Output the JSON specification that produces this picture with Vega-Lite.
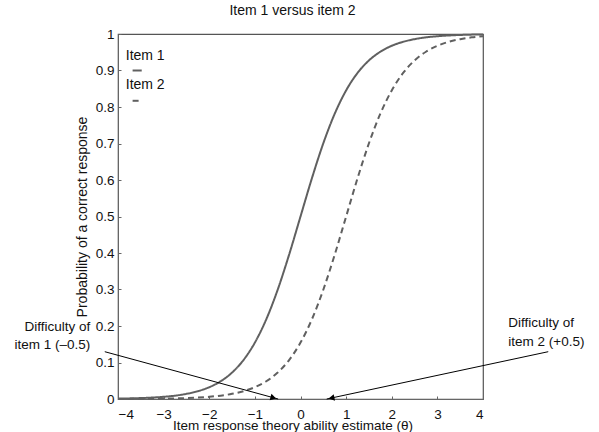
{
  "$schema": "https://vega.github.io/schema/vega-lite/v6.json",
  "width": 365,
  "height": 365,
  "autosize": {"type": "none"},
  "padding": {"left": 118, "top": 34, "right": 116, "bottom": 33},
  "background": "white",
  "title": {"text": "Item 1 versus item 2", "fontSize": 14, "fontWeight": "normal", "font": "Liberation Sans", "color": "#111", "offset": 9, "anchor": "middle", "frame": "group", "dx": -8},
  "config": {
    "view": {"stroke": "#555", "strokeWidth": 1.2},
    "axis": {"labelFont": "Liberation Sans", "titleFont": "Liberation Sans", "labelFontSize": 13.5, "titleFontSize": 14, "titleFontWeight": "normal", "labelColor": "#111", "titleColor": "#111", "domainColor": "#666", "tickColor": "#666", "grid": false, "labelOverlap": false},
    "text": {"font": "Liberation Sans", "fontSize": 13.5, "color": "#111"}
  },
  "datasets": {
    "curves": [
      {"theta": -4, "p": 0.0011, "item": "Item 1"}, {"theta": -3.75, "p": 0.0017, "item": "Item 1"}, {"theta": -3.5, "p": 0.0026, "item": "Item 1"}, {"theta": -3.25, "p": 0.004, "item": "Item 1"},
      {"theta": -3, "p": 0.0061, "item": "Item 1"}, {"theta": -2.75, "p": 0.0092, "item": "Item 1"}, {"theta": -2.5, "p": 0.0141, "item": "Item 1"}, {"theta": -2.25, "p": 0.0214, "item": "Item 1"},
      {"theta": -2, "p": 0.0323, "item": "Item 1"}, {"theta": -1.75, "p": 0.0486, "item": "Item 1"}, {"theta": -1.5, "p": 0.0724, "item": "Item 1"}, {"theta": -1.25, "p": 0.1067, "item": "Item 1"},
      {"theta": -1, "p": 0.1545, "item": "Item 1"}, {"theta": -0.75, "p": 0.2184, "item": "Item 1"}, {"theta": -0.5, "p": 0.2994, "item": "Item 1"}, {"theta": -0.25, "p": 0.3953, "item": "Item 1"},
      {"theta": 0, "p": 0.5, "item": "Item 1"}, {"theta": 0.25, "p": 0.6047, "item": "Item 1"}, {"theta": 0.5, "p": 0.7006, "item": "Item 1"}, {"theta": 0.75, "p": 0.7816, "item": "Item 1"},
      {"theta": 1, "p": 0.8455, "item": "Item 1"}, {"theta": 1.25, "p": 0.8933, "item": "Item 1"}, {"theta": 1.5, "p": 0.9276, "item": "Item 1"}, {"theta": 1.75, "p": 0.9514, "item": "Item 1"},
      {"theta": 2, "p": 0.9677, "item": "Item 1"}, {"theta": 2.25, "p": 0.9786, "item": "Item 1"}, {"theta": 2.5, "p": 0.9859, "item": "Item 1"}, {"theta": 2.75, "p": 0.9908, "item": "Item 1"},
      {"theta": 3, "p": 0.9939, "item": "Item 1"}, {"theta": 3.25, "p": 0.996, "item": "Item 1"}, {"theta": 3.5, "p": 0.9974, "item": "Item 1"}, {"theta": 3.75, "p": 0.9983, "item": "Item 1"},
      {"theta": 4, "p": 0.9989, "item": "Item 1"},
      {"theta": -4, "p": 0.0002, "item": "Item 2"}, {"theta": -3.75, "p": 0.0003, "item": "Item 2"}, {"theta": -3.5, "p": 0.0005, "item": "Item 2"}, {"theta": -3.25, "p": 0.0007, "item": "Item 2"},
      {"theta": -3, "p": 0.0011, "item": "Item 2"}, {"theta": -2.75, "p": 0.0017, "item": "Item 2"}, {"theta": -2.5, "p": 0.0026, "item": "Item 2"}, {"theta": -2.25, "p": 0.004, "item": "Item 2"},
      {"theta": -2, "p": 0.0061, "item": "Item 2"}, {"theta": -1.75, "p": 0.0092, "item": "Item 2"}, {"theta": -1.5, "p": 0.0141, "item": "Item 2"}, {"theta": -1.25, "p": 0.0214, "item": "Item 2"},
      {"theta": -1, "p": 0.0323, "item": "Item 2"}, {"theta": -0.75, "p": 0.0486, "item": "Item 2"}, {"theta": -0.5, "p": 0.0724, "item": "Item 2"}, {"theta": -0.25, "p": 0.1067, "item": "Item 2"},
      {"theta": 0, "p": 0.1545, "item": "Item 2"}, {"theta": 0.25, "p": 0.2184, "item": "Item 2"}, {"theta": 0.5, "p": 0.2994, "item": "Item 2"}, {"theta": 0.75, "p": 0.3953, "item": "Item 2"},
      {"theta": 1, "p": 0.5, "item": "Item 2"}, {"theta": 1.25, "p": 0.6047, "item": "Item 2"}, {"theta": 1.5, "p": 0.7006, "item": "Item 2"}, {"theta": 1.75, "p": 0.7816, "item": "Item 2"},
      {"theta": 2, "p": 0.8455, "item": "Item 2"}, {"theta": 2.25, "p": 0.8933, "item": "Item 2"}, {"theta": 2.5, "p": 0.9276, "item": "Item 2"}, {"theta": 2.75, "p": 0.9514, "item": "Item 2"},
      {"theta": 3, "p": 0.9677, "item": "Item 2"}, {"theta": 3.25, "p": 0.9786, "item": "Item 2"}, {"theta": 3.5, "p": 0.9859, "item": "Item 2"}, {"theta": 3.75, "p": 0.9908, "item": "Item 2"},
      {"theta": 4, "p": 0.9939, "item": "Item 2"}
    ],
    "legendText": [
      {"theta": -3.83, "p": 0.94, "label": "Item 1"},
      {"theta": -3.83, "p": 0.86, "label": "Item 2"}
    ],
    "legendSample": [
      {"theta": -3.68, "theta2": -3.48, "p": 0.9, "item": "Item 1"},
      {"theta": -3.68, "theta2": -3.48, "p": 0.817, "item": "Item 2"}
    ],
    "arrows": [
      {"theta": -4.29, "p": 0.1296, "theta2": -0.49, "p2": 0},
      {"theta": 5.43, "p": 0.1296, "theta2": 0.574, "p2": 0}
    ],
    "noteLeft": [
      {"theta": -4.61, "p": 0.197, "label": "Difficulty of"},
      {"theta": -4.61, "p": 0.148, "label": "item 1 (–0.5)"}
    ],
    "noteRight": [
      {"theta": 4.555, "p": 0.207, "label": "Difficulty of"},
      {"theta": 4.555, "p": 0.157, "label": "item 2 (+0.5)"}
    ],
    "headLeft": [{"theta": -0.595, "p": 0.0036}],
    "headRight": [{"theta": 0.68, "p": 0.0027}]
  },
  "encoding": {
    "x": {"field": "theta", "type": "quantitative", "scale": {"domain": [-4, 4], "nice": false}, "axis": {"values": [-4, -3, -2, -1, 0, 1, 2, 3, 4], "title": "Item response theory ability estimate (θ)", "titleFontSize": 13.5, "tickSize": -3, "labelPadding": 11, "titlePadding": -2.5, "titleX": 174.5}},
    "y": {"field": "p", "type": "quantitative", "scale": {"domain": [0, 1], "nice": false}, "axis": {"values": [0, 0.1, 0.2, 0.3, 0.4, 0.5, 0.6, 0.7, 0.8, 0.9, 1], "format": "~g", "title": "Probability of a correct response", "tickSize": -3, "labelPadding": 7, "titlePadding": 6}}
  },
  "layer": [
    {
      "data": {"name": "curves"},
      "mark": {"type": "line", "interpolate": "monotone", "color": "#606060", "strokeWidth": 2},
      "encoding": {
        "strokeDash": {"field": "item", "type": "nominal", "scale": {"domain": ["Item 1", "Item 2"], "range": [[1, 0], [6, 4]]}, "legend": null}
      }
    },
    {
      "data": {"name": "legendSample"},
      "mark": {"type": "rule", "color": "#606060", "strokeWidth": 2},
      "encoding": {
        "x2": {"field": "theta2"},
        "strokeDash": {"field": "item", "type": "nominal", "scale": {"domain": ["Item 1", "Item 2"], "range": [[1, 0], [3, 2]]}, "legend": null}
      }
    },
    {
      "data": {"name": "legendText"},
      "mark": {"type": "text", "align": "left", "baseline": "middle", "fontSize": 14},
      "encoding": {
        "text": {"field": "label"}
      }
    },
    {
      "data": {"name": "arrows"},
      "mark": {"type": "rule", "color": "#000", "strokeWidth": 1},
      "encoding": {
        "x2": {"field": "theta2"},
        "y2": {"field": "p2"}
      }
    },
    {
      "data": {"name": "headLeft"},
      "mark": {"type": "point", "shape": "triangle-right", "filled": true, "color": "#000", "opacity": 1, "size": 45, "angle": 15},
      "encoding": {}
    },
    {
      "data": {"name": "headRight"},
      "mark": {"type": "point", "shape": "triangle-left", "filled": true, "color": "#000", "opacity": 1, "size": 45, "angle": -12},
      "encoding": {}
    },
    {
      "data": {"name": "noteLeft"},
      "mark": {"type": "text", "align": "right", "baseline": "middle"},
      "encoding": {
        "text": {"field": "label"}
      }
    },
    {
      "data": {"name": "noteRight"},
      "mark": {"type": "text", "align": "left", "baseline": "middle"},
      "encoding": {
        "text": {"field": "label"}
      }
    }
  ]
}
